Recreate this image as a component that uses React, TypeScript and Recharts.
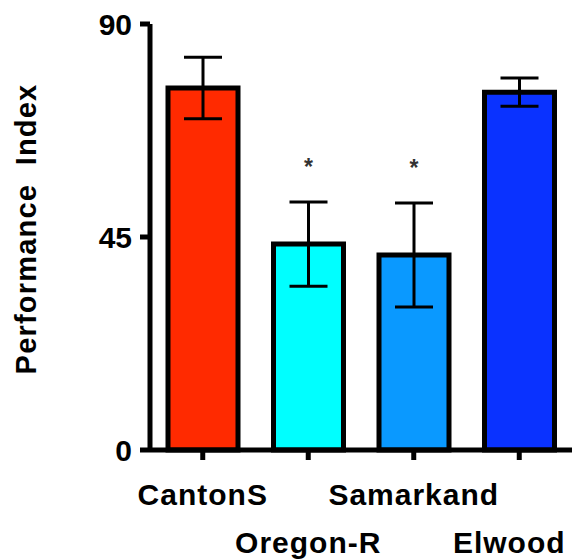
import React from "react";
import { Bar, BarChart, Cell, ErrorBar, LabelList, XAxis, YAxis } from "recharts";

const strains = ["CantonS", "Oregon-R", "Samarkand", "Elwood"];
const performance = [76.5, 43.5, 41.2, 75.6];
const sem = [6.5, 8.9, 11, 3];
const significance = ["", "*", "*", ""];
const barColors = ["#ff2a00", "#00ffff", "#0a99ff", "#0a32ff"];
const yTicks = [0, 45, 90];

const data = strains.map((strain, i) => ({
  strain,
  pi: performance[i],
  err: sem[i],
  sig: significance[i],
}));

const FONT = '"Liberation Sans", Arial, Helvetica, sans-serif';

// labels alternate between two rows like the original figure
const StrainTick = ({ x, payload, index }: any) => {
  const i = payload?.index ?? index ?? 0;
  const lower = i % 2 === 1;
  const last = i === strains.length - 1;
  return (
    <text
      x={x}
      dx={last ? -10 : 0}
      y={lower ? 553 : 505}
      textAnchor="middle"
      fontFamily={FONT}
      fontWeight="bold"
      fontSize={30}
      letterSpacing={1}
      fill="#000"
    >
      {payload.value}
    </text>
  );
};

const StarLabel = ({ x, y, width, height, value, index }: any) => {
  if (!value) return null;
  const unit = height / performance[index];
  const errTop = y - sem[index] * unit;
  return (
    <text
      x={x + width / 2}
      y={errTop - 27}
      textAnchor="middle"
      fontFamily={FONT}
      fontWeight="bold"
      fontSize={23}
      fill="#333"
    >
      {value}
    </text>
  );
};

const App = () => {
  return (
    <div style={{ position: "absolute", left: 0, top: 0 }}>
      <BarChart
        width={572}
        height={559}
        data={data}
        margin={{ top: 24, right: 0, bottom: 0, left: 0 }}
        barCategoryGap={0}
      >
        <XAxis
          dataKey="strain"
          height={109}
          interval={0}
          axisLine={{ stroke: "#000", strokeWidth: 5 }}
          tickLine={{ stroke: "#000", strokeWidth: 5 }}
          tickSize={10}
          tick={<StrainTick />}
        />
        <YAxis
          width={150}
          domain={[0, 90]}
          ticks={yTicks}
          interval={0}
          axisLine={{ stroke: "#000", strokeWidth: 5 }}
          tickLine={{ stroke: "#000", strokeWidth: 5 }}
          tickSize={10}
          tickMargin={8}
          tick={{ fill: "#000", fontSize: 30, fontWeight: "bold", fontFamily: FONT }}
          label={{
            content: () => (
              <text
                x={36}
                y={229}
                transform="rotate(-90 36 229)"
                textAnchor="middle"
                fontFamily={FONT}
                fontWeight="bold"
                fontSize={29}
                letterSpacing={1.2}
                fill="#000"
                style={{ whiteSpace: "pre" }}
              >
                {"Performance  Index"}
              </text>
            ),
          }}
        />
        <Bar dataKey="pi" barSize={70} stroke="#000" strokeWidth={5} isAnimationActive={false}>
          {data.map((d, i) => (
            <Cell key={d.strain} fill={barColors[i]} />
          ))}
          <ErrorBar dataKey="err" width={19} stroke="#000" strokeWidth={3} isAnimationActive={false} />
          <LabelList dataKey="sig" content={StarLabel} />
        </Bar>
      </BarChart>
    </div>
  );
};

export default App;
